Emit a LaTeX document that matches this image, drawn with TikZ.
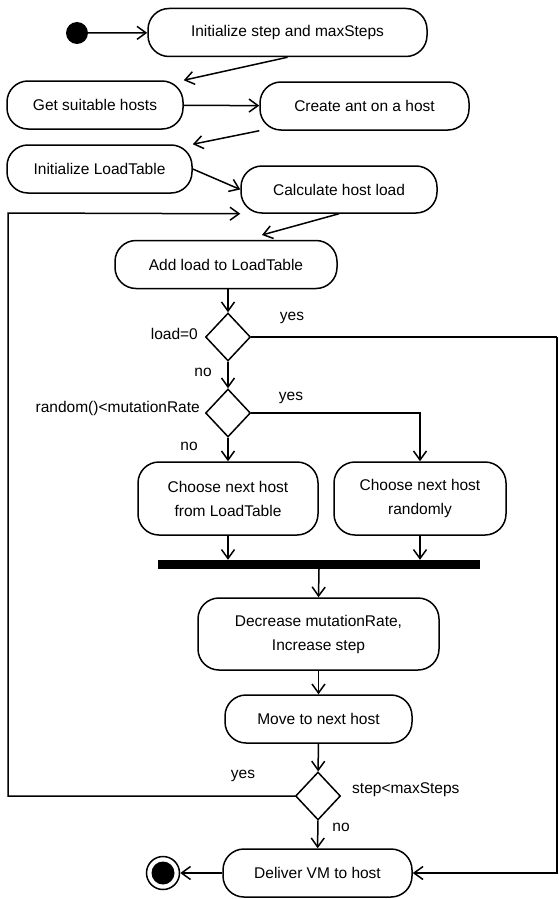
\documentclass[tikz,border=0pt]{standalone}
\usepackage{fontspec}
\setmainfont{Liberation Sans}
\usetikzlibrary{shapes.geometric,arrows.meta}

\tikzset{
    every node/.style={font=\fontsize{15.5}{24}\selectfont},
    action/.style={draw, line width=1.5pt, rounded corners=21pt, inner sep=0pt,
        minimum height=48pt, align=center},
    decision/.style={draw, diamond, line width=1.5pt, inner sep=0pt,
        minimum width=45pt, minimum height=48pt},
    startdot/.style={circle, fill, inner sep=0pt, minimum size=22pt},
    enddot/.style={circle, draw, line width=1.5pt, inner sep=0pt, minimum size=33pt,
        path picture={\fill (path picture bounding box.center) circle (11.5pt);}},
    syncbar/.style={fill, inner sep=0pt, minimum width=322pt, minimum height=9pt},
    flow/.style={line width=1.5pt, -{Straight Barb[length=9pt,width=13pt]}},
    guard/.style={inner sep=0pt}
}

\begin{document}
\begin{tikzpicture}[x=1pt,y=-1pt]
        \useasboundingbox (0,0) rectangle (558,899);

        \node[startdot] (start) at (77,33) {};
        \node[action, minimum width=279pt] (init) at (287.5,32.5) {Initialize step and maxSteps};
        \node[action, minimum width=176pt] (get) at (95,105) {Get suitable hosts};
        \node[action, minimum width=209pt] (create) at (364.5,106) {Create ant on a host};
        \node[action, minimum width=185pt] (loadt) at (99.5,169) {Initialize LoadTable};
        \node[action, minimum width=196pt, minimum height=47pt] (calc) at (339,189.5) {Calculate host load};
        \node[action, minimum width=222pt] (add) at (226,264.5) {Add load to LoadTable};
        \node[decision] (zero) at (228,337) {};
        \node[decision] (mut) at (228,413) {};
        \node[action, minimum width=180pt, minimum height=73pt] (choosetab) at (228,498.5) {Choose next host\\from LoadTable};
        \node[action, minimum width=172pt, minimum height=73pt] (chooserand) at (420,498.5) {Choose next host\\randomly};
        \node[syncbar] (bar) at (319,564.5) {};
        \node[action, minimum width=241pt, minimum height=72pt] (decr) at (318.5,634) {Decrease mutationRate,\\Increase step};
        \node[action, minimum width=187pt] (move) at (318.5,719) {Move to next host};
        \node[decision] (steps) at (318,796) {};
        \node[action, minimum width=189pt] (deliver) at (317.5,873) {Deliver VM to host};
        \node[enddot] (final) at (163,873) {};

        \node[guard, anchor=east] (zerolbl) at (198,334) {load=0};
        \node[guard] (zeroyes) at (292,318) {yes};
        \node[guard] (zerono) at (203,372) {no};
        \node[guard, anchor=east] (mutlbl) at (200,408) {random()<mutationRate};
        \node[guard] (mutyes) at (291,398) {yes};
        \node[guard] (mutno) at (189,446) {no};
        \node[guard] (stepsyes) at (243,776) {yes};
        \node[guard, anchor=west] (stepslbl) at (352,790) {step<maxSteps};
        \node[guard] (stepsno) at (341,827) {no};

        \coordinate (addin) at (262,235);
        \coordinate (edge) at (557,337);
        \coordinate (loop) at (8,213);

        \draw[flow] (start) -- (init);
        \draw[flow] (init.south) -- (get.north east);
        \draw[flow] (get) -- (create);
        \draw[flow] (create.south west) -- (loadt.north east);
        \draw[flow] (loadt.east) -- (calc.west);
        \draw[flow] (calc.south) -- (addin);
        \draw[flow] (add.south -| zero.north) -- (zero.north);
        \draw[flow] (zero.south) -- (mut.north);
        \draw[line width=1.5pt] (zero.east) -- (edge);
        \draw[flow] (edge) |- (deliver.east);
        \draw[flow] (mut.south) -- (choosetab.north);
        \draw[flow] (mut.east) -| (chooserand.north);
        \draw[flow] (choosetab.south) -- (choosetab.south |- bar.north);
        \draw[flow] (chooserand.south) -- (chooserand.south |- bar.north);
        \draw[flow] (bar.south) -- (decr.north);
        \draw[flow] (decr) -- (move);
        \draw[flow] (move) -- (steps);
        \draw[flow] (steps) -- (deliver);
        \draw[flow] (steps.west) -| (loop) -- (calc.south west);
        \draw[flow] (deliver) -- (final);
    \end{tikzpicture}
\end{document}
